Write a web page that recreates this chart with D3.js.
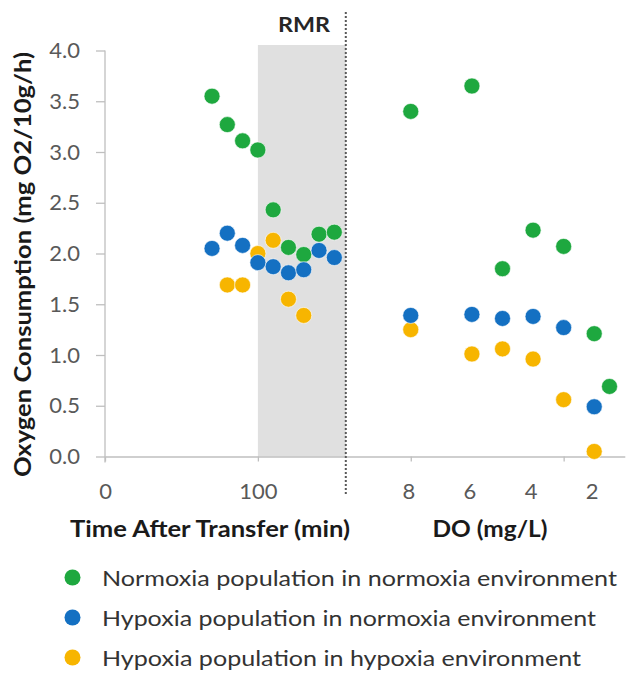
<!DOCTYPE html>
<html>
<head>
<meta charset="utf-8">
<script src="https://cdn.jsdelivr.net/npm/d3@7"></script>
<style>
    html, body { margin: 0; padding: 0; background: #fff; }
    svg { display: block; font-family: Lato, 'Open Sans', sans-serif; }
</style>
</head>
<body>
<div id="chart"></div>
<script>
// time phase (minutes after transfer)
const times = [70, 80, 90, 100, 110, 120, 130, 140, 150];
const normoxiaTime = [3.55, 3.27, 3.11, 3.02, 2.43, 2.06, 1.99, 2.19, 2.21];
const hypoNormTime = [2.05, 2.20, 2.08, 1.91, 1.87, 1.81, 1.84, 2.03, 1.96];
const hypoHypoTime = [null, 1.69, 1.69, 2.00, 2.13, 1.55, 1.39, null, null];

// DO phase (mg/L)
const doLevels = [8, 6, 5, 4, 3, 2, 1.5];
const normoxiaDO = [3.40, 3.65, 1.85, 2.23, 2.07, 1.21, 0.69];
const hypoNormDO = [1.39, 1.40, 1.36, 1.38, 1.27, 0.49, null];
const hypoHypoDO = [1.25, 1.01, 1.06, 0.96, 0.56, 0.05, null];

const yTicks = [0, 0.5, 1, 1.5, 2, 2.5, 3, 3.5, 4];
const timeTicks = [0, 100];
const doTicks = [8, 6, 4, 2];
const rmrStart = 100;
const rmrEnd = 157.5;

const series = [
    { label: 'Hypoxia population in hypoxia environment', color: '#f7b500', time: hypoHypoTime, DO: hypoHypoDO },
    { label: 'Normoxia population in normoxia environment', color: '#1ea83f', time: normoxiaTime, DO: normoxiaDO },
    { label: 'Hypoxia population in normoxia environment', color: '#1470c2', time: hypoNormTime, DO: hypoNormDO }
];
const legendOrder = [1, 2, 0];
const legendWidths = [515, 494, 479];

const W = 632, H = 674;
const svg = d3.select('#chart').append('svg')
    .attr('width', W)
    .attr('height', H);

// one numeric axis like the source sheet: 0..340, DO mapped onto 200..330
const x = d3.scaleLinear().domain([0, 340]).range([105, 624.8]);
const xDO = d3.scaleLinear().domain([8, 1.5]).range([x(200), x(330)]);
const y = d3.scaleLinear().domain([0, 4]).range([456.5, 50.5]);

// RMR band
svg.append('rect')
    .attr('x', x(rmrStart))
    .attr('y', 45)
    .attr('width', x(rmrEnd) - x(rmrStart))
    .attr('height', y(0) - 45)
    .attr('fill', '#e0e0e0');

// y axis
const yAxis = svg.append('g')
    .attr('transform', 'translate(' + x(0) + ',0)')
    .call(d3.axisLeft(y).tickValues(yTicks).tickFormat(d3.format('.1f')).tickSize(9).tickSizeOuter(0));
yAxis.select('.domain').attr('stroke', '#bfbfbf').attr('stroke-width', 1.3)
    .attr('d', 'M0,' + y(4) + 'V' + (y(0) + 6));
yAxis.selectAll('.tick line').attr('stroke', '#bfbfbf').attr('stroke-width', 1.3);
yAxis.selectAll('.tick text')
    .attr('x', -25)
    .style('font-size', '22px')
    .style('font-family', 'Lato, sans-serif')
    .attr('fill', '#595959');

// x axis (time part + ticks at every 100)
const xAxis = svg.append('g')
    .attr('transform', 'translate(0,' + y(0) + ')')
    .call(d3.axisBottom(x).tickValues([0, 100, 200, 300]).tickSize(5).tickSizeOuter(0)
        .tickFormat(function(d) { return timeTicks.includes(d) ? d : ''; }));
xAxis.select('.domain').attr('stroke', '#bfbfbf').attr('stroke-width', 1.3);
xAxis.selectAll('.tick line').attr('stroke', '#bfbfbf').attr('stroke-width', 1.3);
xAxis.selectAll('.tick text')
    .attr('y', 27)
    .style('font-size', '22px')
    .style('font-family', 'Lato, sans-serif')
    .attr('fill', '#595959');

// DO labels
const doAxis = svg.append('g')
    .attr('transform', 'translate(0,' + y(0) + ')')
    .call(d3.axisBottom(xDO).tickValues(doTicks).tickSize(0).tickFormat(d3.format('d')));
doAxis.select('.domain').remove();
doAxis.selectAll('.tick text')
    .attr('y', 27)
    .attr('dx', -2.5)
    .style('font-size', '22px')
    .style('font-family', 'Lato, sans-serif')
    .attr('fill', '#595959');

// dotted separator
svg.append('line')
    .attr('x1', x(rmrEnd)).attr('x2', x(rmrEnd))
    .attr('y1', 12).attr('y2', 496)
    .attr('stroke', '#595959')
    .attr('stroke-width', 2)
    .attr('stroke-dasharray', '2,2');

// points
series.forEach(function(s) {
    const pts = times.map(function(t, i) { return { x: x(t), v: s.time[i] }; })
        .concat(doLevels.map(function(d, i) { return { x: xDO(d), v: s.DO[i] }; }))
        .filter(function(p) { return p.v !== null; });
    svg.append('g').selectAll('circle')
        .data(pts)
        .enter()
        .append('circle')
        .attr('cx', function(p) { return p.x; })
        .attr('cy', function(p) { return y(p.v); })
        .attr('r', 8)
        .attr('fill', s.color)
        .attr('stroke', 'rgba(255,255,255,0.6)')
        .attr('stroke-width', 1);
});

// titles
function title(text, size, len) {
    return svg.append('text')
        .attr('text-anchor', 'middle')
        .attr('textLength', len)
        .attr('lengthAdjust', 'spacingAndGlyphs')
        .style('font-size', size + 'px').style('font-weight', 'bold')
        .attr('fill', '#1a1a1a')
        .text(text);
}

title('RMR', 21, 52).attr('x', 304).attr('y', 32).attr('fill', '#262626');
title('Oxygen Consumption (mg O2/10g/h)', 23, 425)
    .attr('transform', 'translate(31,264.5) rotate(-90)');
title('Time After Transfer (min)', 23, 280).attr('x', 210).attr('y', 537);
title('DO (mg/L)', 23, 115).attr('x', 490).attr('y', 537);

// legend
const legend = svg.append('g');
legendOrder.forEach(function(idx, row) {
    const s = series[idx];
    const ly = 577.5 + row * 40;
    legend.append('circle')
        .attr('cx', 72.5).attr('cy', ly)
        .attr('r', 8)
        .attr('fill', s.color);
    legend.append('text')
        .attr('x', 102).attr('y', ly + 8)
        .attr('textLength', legendWidths[row])
        .attr('lengthAdjust', 'spacingAndGlyphs')
        .style('font-size', '22px')
        .attr('fill', '#333')
        .text(s.label);
});
</script>
</body>
</html>
